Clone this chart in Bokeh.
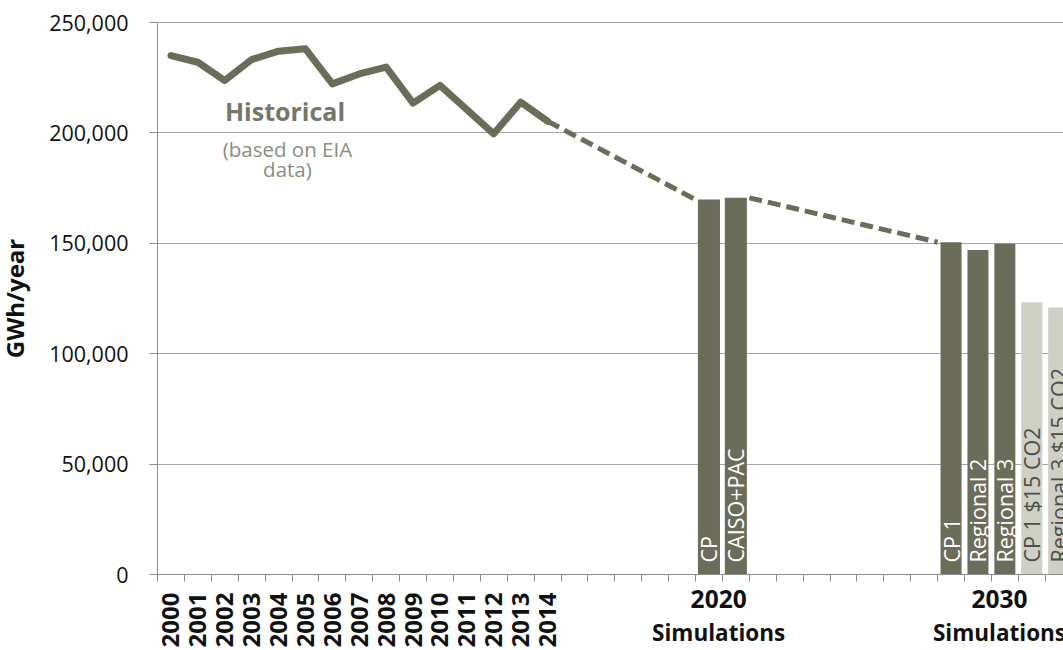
import math
from bokeh.plotting import figure
from bokeh.models import Range1d, FixedTicker, NumeralTickFormatter, Label
from bokeh.embed import file_html
from bokeh.resources import INLINE
from bokeh.core.properties import value

# ---------------- data ----------------
hist_years = ["2000", "2001", "2002", "2003", "2004", "2005", "2006", "2007",
              "2008", "2009", "2010", "2011", "2012", "2013", "2014"]
hist_values = [235000, 232000, 223700, 233200, 237000, 238100, 222200, 226700,
               229800, 213500, 221500, 210500, 199600, 213900, 205300]

sim2020_names = ["CP", "CAISO+PAC"]
sim2020_values = [169800, 170600]

sim2030_names = ["CP 1", "Regional 2", "Regional 3", "CP 1  $15 CO2", "Regional 3  $15 CO2"]
sim2030_values = [150500, 147000, 149800, 123300, 120900]
sim2030_co2 = [False, False, False, True, True]

group_labels = ["2020", "2030"]
group_sub = "Simulations"
y_ticks = [0, 50000, 100000, 150000, 200000, 250000]

# ---------------- layout ----------------
DARK = "#6b6c59"
LIGHT = "#cecfc5"
GRID = "#a6a6a6"
AXIS = "#8c8c8c"
FONT = "Open Sans"
W, H = 1063, 650
AX_X, AX_Y, TOP_Y = 157, 574, 22      # pixel positions of the axes / top gridline
SLOT = 26.9                           # px per category slot
UPP = 250000 / (AX_Y - TOP_Y)         # data units per px

start2020 = 20
start2030 = 29

x0 = -AX_X / SLOT
x1 = (W - AX_X) / SLOT
y0 = -(H - AX_Y) * UPP
y1 = 250000 + TOP_Y * UPP

p = figure(width=W, height=H, output_backend="svg", toolbar_location=None,
           x_range=Range1d(x0, x1), y_range=Range1d(y0, y1), min_border=0)
p.title.visible = False
p.outline_line_color = None
p.background_fill_color = "white"
p.border_fill_color = "white"

# axes placed at data zero inside the frame
xa = p.xaxis[0]
xa.fixed_location = 0
xa.bounds = (0, x1)
xa.ticker = FixedTicker(ticks=[], minor_ticks=list(range(0, 34)))
xa.axis_line_color = AXIS
xa.minor_tick_line_color = AXIS
xa.minor_tick_out = 7
xa.minor_tick_in = 0
xa.major_tick_line_color = None
xa.major_label_text_font_size = "0px"

ya = p.yaxis[0]
ya.fixed_location = 0
ya.bounds = (0, 250000)
ya.ticker = FixedTicker(ticks=y_ticks, minor_ticks=[])
ya.formatter = NumeralTickFormatter(format="0,0")
ya.axis_line_color = AXIS
ya.major_tick_line_color = AXIS
ya.major_tick_out = 8
ya.major_tick_in = 0
ya.minor_tick_line_color = None
ya.major_label_standoff = 21
ya.major_label_text_font = FONT
ya.major_label_text_font_size = "21.5px"
ya.major_label_text_color = "#111111"
ya.axis_label = "GWh/year"
ya.axis_label_text_font = FONT
ya.axis_label_text_font_style = "bold"
ya.axis_label_text_font_size = "24px"
ya.axis_label_text_color = "#111111"
ya.axis_label_standoff = 15

p.xgrid.visible = False
yg = p.ygrid[0]
yg.ticker = FixedTicker(ticks=y_ticks)
yg.grid_line_color = GRID
yg.grid_line_width = 1
if "cross_bounds" in yg.properties():
    yg.cross_bounds = (0, x1)
else:
    yg.visible = False
    p.segment(x0=[0] * len(y_ticks), x1=[x1] * len(y_ticks), y0=y_ticks, y1=y_ticks,
              line_color=GRID, line_width=1)

# historical line
hx = [i + 0.5 for i in range(len(hist_values))]
p.line(hx, hist_values, line_color=DARK, line_width=7, line_join="round", line_cap="round")

# bars
x2020 = [start2020 + i + 0.5 for i in range(len(sim2020_values))]
x2030 = [start2030 + i + 0.5 for i in range(len(sim2030_values))]
p.vbar(x=x2020, top=sim2020_values, width=0.82, bottom=0, fill_color=DARK, line_color=None)
cols2030 = [LIGHT if c else DARK for c in sim2030_co2]
p.vbar(x=x2030, top=sim2030_values, width=0.78, bottom=0, fill_color=cols2030, line_color=None)

# dashed connectors
p.line([hx[-1], start2020], [hist_values[-1], sim2020_values[0]],
       line_color=DARK, line_width=5, line_dash="13 6")
p.line([start2020 + len(sim2020_values), start2030], [sim2020_values[-1], sim2030_values[0]],
       line_color=DARK, line_width=5, line_dash="13 6")

# bar labels
bar_x = x2020 + x2030
bar_t = sim2020_names + sim2030_names
bar_c = ["white"] * len(sim2020_names) + ["#4d4d45" if c else "white" for c in sim2030_co2]
p.text(x=bar_x, y=[0] * len(bar_x), text=bar_t, angle=math.pi / 2, text_align="left",
       text_baseline="middle", y_offset=-12, text_color=bar_c,
       text_font=value(FONT), text_font_size="21.5px")

# year category labels (vertical)
p.text(x=hx, y=[0] * len(hx), text=hist_years, angle=math.pi / 2, text_align="right",
       text_baseline="middle", y_offset=18, text_color="#111111",
       text_font=value(FONT), text_font_style="bold", text_font_size="24px")

# group labels
group_x = [20.86, 31.3]
p.text(x=group_x, y=[0, 0], text=group_labels, text_align="center",
       text_baseline="alphabetic", y_offset=24, text_color="#111111",
       text_font=value(FONT), text_font_style="bold", text_font_size="24.5px")
p.text(x=group_x, y=[0, 0], text=[group_sub] * 2, text_align="center",
       text_baseline="alphabetic", y_offset=58, text_color="#111111",
       text_font=value(FONT), text_font_style="bold", text_font_size="22.5px")

# annotations
p.add_layout(Label(x=4.74, y=210100, text="Historical", text_align="center",
                   text_baseline="alphabetic", text_font=FONT, text_font_style="bold",
                   text_font_size="25px", text_color="#76766a"))
p.add_layout(Label(x=4.83, y=192500, text="(based on EIA", text_align="center",
                   text_baseline="alphabetic", text_font=FONT, text_font_size="20.5px",
                   text_color="#8c8c80"))
p.add_layout(Label(x=4.83, y=183500, text="data)", text_align="center",
                   text_baseline="alphabetic", text_font=FONT, text_font_size="20.5px",
                   text_color="#8c8c80"))

open("out.html", "w").write(file_html(p, INLINE))
